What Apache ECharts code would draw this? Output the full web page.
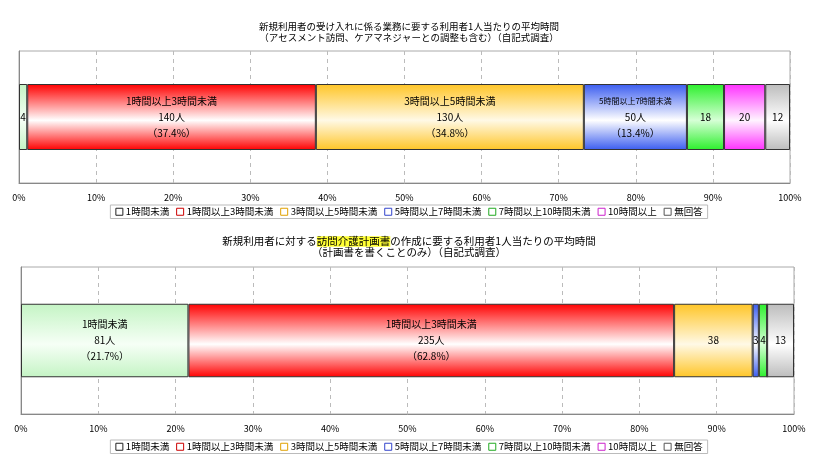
<!DOCTYPE html>
<html>
<head>
<meta charset="utf-8">
<script src="https://cdn.jsdelivr.net/npm/echarts@6/dist/echarts.min.js"></script>
<style>
html,body{margin:0;padding:0;background:#fff;}
#chart{width:818px;height:461px;}
</style>
</head>
<body>
<div id="chart"></div>
<script>
const categories = ['1時間未満','1時間以上3時間未満','3時間以上5時間未満','5時間以上7時間未満','7時間以上10時間未満','10時間以上','無回答'];
const valuesTop = [4, 140, 130, 50, 18, 20, 12];
const valuesBottom = [81, 235, 38, 3, 4, 0, 13];
const titleTop = '新規利用者の受け入れに係る業務に要する利用者1人当たりの平均時間\n（アセスメント訪問、ケアマネジャーとの調整も含む）（自記式調査）';
const titleBottom = '新規利用者に対する{h|訪問介護計画書}の作成に要する利用者1人当たりの平均時間\n（計画書を書くことのみ）（自記式調査）';
const rowName = ['row'];

const edgeColors = ['#c4f4c4','#ff0000','#ffc526','#3a5cf0','#2cf02c','#ff30ff','#bcbcbc'];
const midColors  = ['#f6fff6','#ffffff','#fff9e6','#ffffff','#d6ffd6','#fff4ff','#ffffff'];
const legendBorder = ['#222','#cc0000','#e0a000','#3344cc','#22aa22','#cc22cc','#555'];

const FONT = '"Noto Sans CJK JP", sans-serif';

function grad(i){
  return {type:'linear',x:0,y:0,x2:0,y2:1,colorStops:[
    {offset:0,color:edgeColors[i]},
    {offset:0.55,color:midColors[i]},
    {offset:1,color:edgeColors[i]}
  ]};
}

function makeSeries(values, idx){
  const total = values.reduce((a,b)=>a+b,0);
  return categories.map((name,i)=>{
    const pct = values[i]/total*100;
    return {
      name: name,
      type: 'bar',
      stack: 's'+idx,
      xAxisIndex: idx,
      yAxisIndex: idx,
      barWidth: '50%',
      itemStyle: {color: grad(i), borderColor:'#333', borderWidth:1},
      label: {
        show: values[i] > 0,
        position: 'inside',
        color: '#000',
        fontFamily: FONT,
        fontSize: 10,
        lineHeight: 16,
        formatter: function(){
          if (pct >= 12) {
            const key = pct < 20 ? 's' : 'n';
            return '{'+key+'|'+name+'}\n'+values[i]+'人\n（'+pct.toFixed(1)+'%）';
          }
          return String(values[i]);
        },
        rich: {
          n: {fontSize:10, fontFamily:FONT, color:'#000', lineHeight:16},
          s: {fontSize:8, fontFamily:FONT, color:'#000', lineHeight:16}
        }
      },
      emphasis: {disabled:true},
      data: [pct]
    };
  });
}

function makeLegend(top){
  return {
    top: top,
    left: 'center',
    icon: 'rect',
    itemWidth: 7,
    itemHeight: 7,
    itemGap: 7,
    padding: [2,5],
    borderColor: '#bbb',
    borderWidth: 1,
    textStyle: {fontFamily:FONT, fontSize:9.5, color:'#000', padding:[0,0,0,-2]},
    data: categories.map((n,i)=>({name:n, itemStyle:{color:'#fff', borderColor:legendBorder[i], borderWidth:1}}))
  };
}

function xAx(idx){
  return {
    type:'value', gridIndex: idx, min:0, max:100, interval:10,
    axisLine:{show:true, lineStyle:{color:'#888'}},
    axisTick:{show:false},
    axisLabel:{formatter:'{value}%', fontFamily:FONT, fontSize:9, color:'#000', margin:10},
    splitLine:{show:true, lineStyle:{color:'#bbb', type:[4,4]}}
  };
}
function yAx(idx){
  return {
    type:'category', gridIndex: idx, data: rowName,
    axisLine:{show:true, lineStyle:{color:'#888'}},
    axisTick:{show:false},
    axisLabel:{show:false}
  };
}

const chart = echarts.init(document.getElementById('chart'), null, {renderer:'canvas'});
chart.setOption({
  animation: false,
  backgroundColor: '#fff',
  title: [
    {text: titleTop, left:'center', top:16, textStyle:{fontFamily:FONT, fontSize:9.5, fontWeight:'normal', color:'#000', lineHeight:11}},
    {text: titleBottom, left:'center', top:231, textStyle:{fontFamily:FONT, fontSize:10.5, fontWeight:'normal', color:'#000', lineHeight:11,
      rich:{h:{backgroundColor:'#ffff33', fontFamily:FONT, fontSize:10.5, color:'#000', lineHeight:11}}}}
  ],
  legend: [makeLegend(205), makeLegend(440)],
  grid: [
    {left:19, right:28, top:51, height:132, show:true, borderColor:'#aaa', backgroundColor:'transparent'},
    {left:21, right:24, top:267, height:147, show:true, borderColor:'#aaa', backgroundColor:'transparent'}
  ],
  xAxis: [xAx(0), xAx(1)],
  yAxis: [yAx(0), yAx(1)],
  series: makeSeries(valuesTop,0).concat(makeSeries(valuesBottom,1))
});
</script>
</body>
</html>
